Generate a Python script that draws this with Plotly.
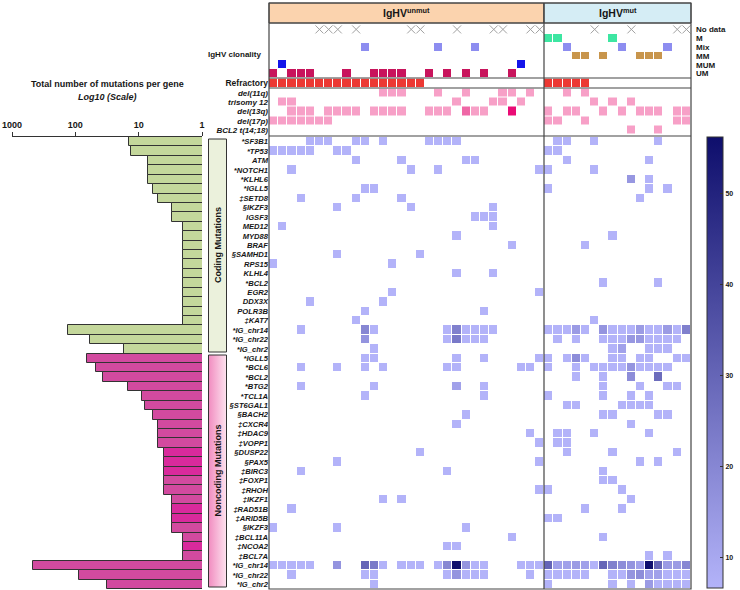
import plotly.graph_objects as go

W, H = 740, 590


def px(x):
    return x / W


def py(y):
    return 1 - y / H


# ---- data ----
coding_genes = ["*SF3B1", "*TP53", "ATM", "*NOTCH1", "*KLHL6", "*IGLL5", "‡SETD8", "§IKZF3",
                "IGSF3", "MED12", "MYD88", "BRAF", "§SAMHD1", "RPS15", "KLHL4", "*BCL2",
                "EGR2", "DDX3X", "POLR3B", "‡KAT7", "*IG_chr14", "*IG_chr22", "*IG_chr2"]
noncoding_genes = ["*IGLL5", "*BCL6", "*BCL2", "*BTG2", "*TCL1A", "§ST6GAL1", "§BACH2", "‡CXCR4",
                   "‡HDAC9", "‡VOPP1", "§DUSP22", "§PAX5", "‡BIRC3", "‡FOXP1", "‡RHOH", "‡IKZF1",
                   "‡RAD51B", "‡ARID5B", "§IKZF3", "‡BCL11A", "‡NCOA2", "‡BCL7A", "*IG_chr14",
                   "*IG_chr22", "*IG_chr2"]

coding_totals = [14, 13, 7, 7, 7, 6, 5, 3, 3, 2, 2, 2, 2, 2, 2, 2, 2, 2, 2, 2, 131, 58, 17]
noncoding_totals = [66, 48, 37, 15, 9, 8, 6, 5, 5, 5, 4, 4, 4, 4, 4, 3, 3, 3, 3, 2, 2, 2, 470, 89, 32]

# patients mutated per gene (column index; 0-29 IgHV unmut, 30-45 IgHV mut)
coding_hits = [
    [4, 5, 6, 9, 10, 12, 17, 18, 19, 20, 31, 32, 35, 42],
    [0, 1, 2, 3, 4, 7, 8, 30, 31],
    [9, 14, 21, 22, 32, 41],
    [2, 15, 18, 29, 30, 35],
    [39, 41],
    [10, 11, 30, 41, 43],
    [3, 9, 14, 40],
    [7, 15, 24],
    [22, 23, 24],
    [1, 24],
    [20, 37],
    [26, 34],
    [7, 16],
    [0, 13],
    [20, 24],
    [36, 42],
    [13, 29],
    [4, 12],
    [10, 23],
    [9, 35],
    [3, 10, 11, 19, 20, 21, 22, 23, 24, 30, 31, 32, 33, 34, 36, 37, 38, 39, 40, 41, 42, 43, 44, 45],
    [10, 19, 20, 21, 22, 23, 31, 33, 36, 37, 38, 39, 40, 41, 42, 43, 44],
    [11, 37, 38, 41, 42, 43],
]
noncoding_hits = [
    [10, 11, 20, 23, 29, 30, 32, 33, 34, 37, 38, 40, 41, 44, 45],
    [3, 7, 10, 12, 19, 20, 27, 28, 30, 33, 35, 36, 37, 38, 39, 40, 41, 42, 43],
    [33, 36, 39, 42],
    [3, 11, 20, 23, 36, 40, 43, 44],
    [10, 23, 30, 36, 39, 41],
    [32, 33, 38, 39, 40, 41],
    [21, 36, 37, 42, 43],
    [20, 39],
    [28, 31, 32, 35, 41],
    [29, 31, 32],
    [16, 32, 37, 44],
    [7, 29, 40, 42],
    [3, 19, 36],
    [36, 37],
    [29, 30, 38],
    [12, 14, 39],
    [2, 34, 38],
    [30, 31],
    [0, 7, 21],
    [26, 36],
    [19, 20],
    [41, 43],
    [0, 1, 2, 3, 4, 7, 10, 11, 12, 14, 15, 16, 18, 19, 20, 21, 22, 23, 27, 28, 29, 30, 31, 32,
     33, 34, 35, 36, 37, 38, 39, 40, 41, 42, 43, 44, 45],
    [2, 10, 11, 19, 20, 21, 22, 23, 28, 30, 31, 32, 33, 34, 37, 38, 39, 40, 41, 42, 43, 44, 45],
    [11, 30, 37, 39, 41, 42, 43, 44, 45],
]
# cells with more than a few mutations: (gene row, patient, count)
heavy_cells = [
    (4, 39, 15), (20, 10, 20), (20, 20, 22), (20, 33, 14), (20, 36, 16), (20, 40, 14),
    (20, 43, 14), (20, 45, 22), (21, 10, 16), (21, 20, 24), (21, 39, 15), (21, 40, 15),
    (22, 38, 12), (23, 33, 18), (24, 39, 16), (25, 39, 18), (25, 42, 28), (26, 20, 12),
    (45, 7, 16), (45, 10, 30), (45, 11, 24), (45, 19, 20), (45, 20, 56), (45, 21, 16),
    (45, 30, 30), (45, 31, 12), (45, 32, 12), (45, 33, 14), (45, 34, 12), (45, 36, 30),
    (45, 37, 22), (45, 38, 18), (45, 39, 16), (45, 40, 12), (45, 41, 56), (45, 42, 30),
    (45, 43, 14), (45, 44, 14), (45, 45, 20), (46, 20, 16), (46, 39, 16), (46, 40, 18),
    (46, 41, 12), (46, 42, 12), (47, 41, 14),
]

n_unmut, n_mut = 30, 16
clonality_classes = ["No data", "M", "Mix", "MM", "MUM", "UM"]
clonality = ["UM", "MUM", "UM", "UM", "UM", "No data", "No data", "No data", "UM", "No data",
             "Mix", "UM", "UM", "UM", "UM", "No data", "No data", "UM", "Mix", "UM",
             "No data", "UM", "Mix", "UM", "No data", "No data", "UM", "MUM", "No data", "No data",
             "M", "M", "Mix", "MM", "MM", "No data", "MM", "M", "Mix", "No data",
             "MM", "MM", "MM", "Mix", "No data", "No data"]
refractory = [0, 1, 2, 3, 4, 5, 6, 7, 8, 9, 10, 11, 12, 13, 14, 15, 16, 30, 31, 32, 33, 34]

cyto_labels = ["del(11q)", "trisomy 12", "del(13q)", "del(17p)", "BCL2 t(14;18)"]
cyto_hits = [
    [12, 13, 14, 18, 21, 25, 26, 28, 32, 34],
    [1, 2, 20, 24, 25, 27, 35, 37, 39],
    [2, 3, 4, 6, 7, 8, 9, 11, 12, 13, 14, 17, 18, 19, 21, 22, 23, 26, 30, 32, 33, 36, 38,
     40, 41, 42, 44, 45],
    [0, 1, 2, 3, 4, 5, 6, 30, 31, 34, 44, 45],
    [39, 42],
]
cyto_strong = [(2, 21, 2), (2, 26, 3)]

# ---- build matrices ----
n_pat = n_unmut + n_mut
genes = coding_genes + noncoding_genes
n_genes = len(genes)
z = [[None] * n_pat for _ in range(n_genes)]
for r, hits in enumerate(coding_hits + noncoding_hits):
    for c in hits:
        z[r][c] = 1
for r, c, v in heavy_cells:
    z[r][c] = v

zc = [[None] * n_pat for _ in clonality_classes]
for c, cl in enumerate(clonality):
    k = clonality_classes.index(cl)
    if k > 0:
        zc[k][c] = k
nodata_x = [c for c, cl in enumerate(clonality) if cl == "No data"]

zr = [[1 if c in refractory else None for c in range(n_pat)]]

zy = [[None] * n_pat for _ in cyto_labels]
for r, hits in enumerate(cyto_hits):
    for c in hits:
        zy[r][c] = 1
for r, c, v in cyto_strong:
    zy[r][c] = v

FONT = "Arial, 'Liberation Sans', sans-serif"
INK = "#161616"
LINE = "#444444"

fig = go.Figure()

# pink gradient behind the "Noncoding Mutations" label (drawn on a full-page pixel axis)
fig.add_trace(go.Scatter(
    x=[208.5, 226.5, 226.5, 208.5, 208.5], y=[355, 355, 587, 587, 355],
    mode="lines", line=dict(width=0), fill="toself", xaxis="x6", yaxis="y6",
    fillgradient=dict(type="horizontal",
                      colorscale=[[0, "#f18cc0"], [1, "#fde3ef"]]),
    hoverinfo="skip"))

# bar chart of total mutations per gene
nc_colors = ["#d24a9f"] * len(noncoding_genes)
for i in [10, 11, 12, 16, 17, 20]:
    nc_colors[i] = "#d92a9c"
fig.add_trace(go.Bar(
    y=list(range(len(coding_genes))), x=coding_totals, orientation="h",
    marker=dict(color="#c4d79b", line=dict(color="#333333", width=1)),
    xaxis="x", yaxis="y", hoverinfo="skip"))
fig.add_trace(go.Bar(
    y=list(range(len(coding_genes), n_genes)), x=noncoding_totals, orientation="h",
    marker=dict(color=nc_colors, line=dict(color="#333333", width=1)),
    xaxis="x", yaxis="y", hoverinfo="skip"))

# mutation heatmap
fig.add_trace(go.Heatmap(
    z=z, x=list(range(n_pat)), y=list(range(n_genes)), xaxis="x2", yaxis="y2",
    colorscale=[[0, "#b3b3f9"], [1, "#0e0e6c"]], zmin=6.7, zmax=56.2,
    xgap=1, ygap=1, hoverinfo="skip",
    colorbar=dict(x=px(707), xanchor="left", y=py(137), yanchor="top",
                  len=(588 - 137) / H, lenmode="fraction", thickness=16,
                  outlinewidth=1, outlinecolor="#333333", xpad=0, ypad=0,
                  tickvals=[10, 20, 30, 40, 50], ticks="inside", ticklen=3,
                  tickcolor="#333333",
                  tickfont=dict(size=7, family=FONT, color=INK, weight="bold"))))

# clonality
clon_colors = ["#3de6a2", "#8d8df0", "#c8954c", "#1414ea", "#c8145c"]
cs = []
for i, col in enumerate(clon_colors):
    cs += [[i / 5, col], [(i + 1) / 5, col]]
fig.add_trace(go.Heatmap(
    z=zc, x=list(range(n_pat)), y=list(range(len(clonality_classes))), xaxis="x3", yaxis="y3",
    colorscale=cs, zmin=0.5, zmax=5.5, showscale=False, xgap=1, ygap=1, hoverinfo="skip"))
fig.add_trace(go.Scatter(
    x=nodata_x, y=[0] * len(nodata_x), mode="markers", xaxis="x3", yaxis="y3",
    marker=dict(symbol="x-thin-open", size=8, color="#a0a0a0",
                line=dict(color="#a0a0a0", width=1)),
    hoverinfo="skip"))

# refractory
fig.add_trace(go.Heatmap(
    z=zr, x=list(range(n_pat)), y=[0], xaxis="x4", yaxis="y4",
    colorscale=[[0, "#ec3833"], [1, "#ec3833"]], showscale=False, xgap=1, hoverinfo="skip"))

# cytogenetics
fig.add_trace(go.Heatmap(
    z=zy, x=list(range(n_pat)), y=list(range(len(cyto_labels))), xaxis="x5", yaxis="y5",
    colorscale=[[0, "#f7a0c7"], [0.5, "#ef67a6"], [1, "#ea0c76"]], zmin=1, zmax=3,
    showscale=False, xgap=1, ygap=1, hoverinfo="skip"))

hm_x = [px(269), px(691)]
xr = [-0.5, n_pat - 0.5]
hidden_x = dict(domain=hm_x, range=xr, visible=False)

fig.update_layout(
    width=W, height=H, margin=dict(l=0, r=0, t=0, b=0, autoexpand=False),
    paper_bgcolor="white", plot_bgcolor="rgba(0,0,0,0)", showlegend=False,
    font=dict(family=FONT, color=INK), bargap=0,
    xaxis=dict(domain=[px(12), px(202)], type="log", range=[3, 0], side="top", anchor="y",
               showline=True, linecolor="#333333", linewidth=1, ticks="outside", ticklen=4,
               tickcolor="#333333", tickvals=[1000, 100, 10, 1],
               ticktext=["1000", "100", "10", "1"], showgrid=False, zeroline=False,
               tickfont=dict(size=9, weight="bold")),
    yaxis=dict(domain=[py(589), py(137)], range=[n_genes - 0.5, -0.5], visible=False,
               anchor="x"),
    xaxis2=dict(hidden_x, anchor="y2"),
    yaxis2=dict(domain=[py(589), py(137)], range=[n_genes - 0.5, -0.5], anchor="x2",
                tickvals=list(range(n_genes)), ticktext=genes, ticks="", showgrid=False,
                zeroline=False, tickfont=dict(size=7.6, weight="bold", style="italic")),
    xaxis3=dict(hidden_x, anchor="y3"),
    yaxis3=dict(domain=[py(78), py(25)], range=[5.5, -0.5], anchor="x3", side="right",
                tickvals=list(range(6)), ticktext=clonality_classes, ticks="",
                showgrid=False, zeroline=False, ticklabelstandoff=4,
                tickfont=dict(size=8, weight="bold")),
    xaxis4=dict(hidden_x, anchor="y4"),
    yaxis4=dict(domain=[py(87), py(78.5)], range=[0.5, -0.5], anchor="x4",
                tickvals=[0], ticktext=["Refractory"], ticks="", showgrid=False,
                zeroline=False, tickfont=dict(size=8.5, weight="bold")),
    xaxis5=dict(hidden_x, anchor="y5"),
    yaxis5=dict(domain=[py(134.5), py(88.5)], range=[4.5, -0.5], anchor="x5",
                tickvals=list(range(5)), ticktext=cyto_labels, ticks="", showgrid=False,
                zeroline=False, tickfont=dict(size=8, weight="bold", style="italic")),
    xaxis6=dict(domain=[0, 1], range=[0, W], visible=False, anchor="y6"),
    yaxis6=dict(domain=[0, 1], range=[H, 0], visible=False, anchor="x6"),
)


def rect(x0, y0, x1, y1, fill=None, width=1, color=LINE):
    fig.add_shape(type="rect", xref="paper", yref="paper",
                  x0=px(x0), x1=px(x1), y0=py(y1), y1=py(y0),
                  fillcolor=fill if fill else "rgba(0,0,0,0)",
                  line=dict(color=color, width=width))


def hline(y, x0=269, x1=691):
    fig.add_shape(type="line", xref="paper", yref="paper", x0=px(x0), x1=px(x1),
                  y0=py(y), y1=py(y), line=dict(color=LINE, width=1.2))


rect(269, 3, 544, 23, fill="#fbd3ae")
rect(544, 3, 691, 23, fill="#d5edf5")
rect(269, 3, 691, 589, width=1.2)
for yy in [23, 78, 88, 136]:
    hline(yy)
fig.add_shape(type="line", xref="paper", yref="paper", x0=px(544), x1=px(544),
              y0=py(3), y1=py(589), line=dict(color=LINE, width=1.2))
rect(208.5, 139, 226.5, 352, fill="#ebf1dc", color="#333333")
rect(208.5, 355, 226.5, 587, color="#333333")


def label(text, x, y, size=8, xanchor="center", angle=0, style="normal"):
    fig.add_annotation(text=text, x=px(x), y=py(y), xref="paper", yref="paper",
                       showarrow=False, xanchor=xanchor, yanchor="middle", textangle=angle,
                       font=dict(size=size, weight="bold", style=style, color=INK))


label("IgHV<sup>unmut</sup>", 406.5, 13, size=10.5)
label("IgHV<sup>mut</sup>", 617.5, 13, size=10.5)
label("IgHV clonality", 263, 55, xanchor="right")
label("Total number of mutations per gene", 107, 84, size=9)
label("Log10 (Scale)", 107, 97, size=9, style="italic")
label("Coding Mutations", 217.5, 245.5, size=9, angle=-90)
label("Noncoding Mutations", 217.5, 471, size=9, angle=-90)

# the page body has a default margin; drop it so the 740x590 figure fills the window
fig.write_html("out.html", config={"displayModeBar": False},
               post_script="document.body.style.margin = '0';")
